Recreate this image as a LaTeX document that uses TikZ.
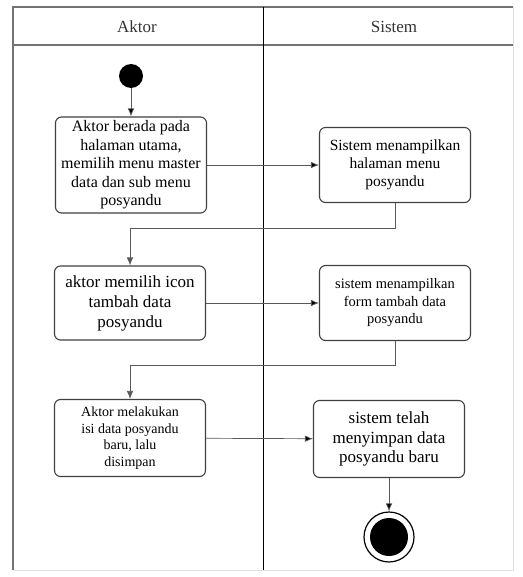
\documentclass[tikz,border=0pt]{standalone}
\usepackage{fontspec}
\setmainfont{Liberation Serif}
\usetikzlibrary{arrows.meta}

\begin{document}
\begin{tikzpicture}[->, >={Latex[length=8pt,width=6.5pt]}, x=1pt, y=-1pt, line width=0.8pt]
				\tikzstyle{activity}=[draw=black!75, rounded corners=6pt, line width=1.1pt, fill=white, text=black, align=center, inner sep=1pt, minimum width=151pt]
				\tikzstyle{flow}=[draw=black!65, line width=0.7pt]
				\useasboundingbox (0,0) rectangle (522,577);
				
				% swimlanes
				\draw[-, black!12, line width=1pt] (513,7) -- (513,570) -- (13,570);
				\draw[-, black!55, line width=1.5pt] (13,570) -- (13,7) -- (513,7);
				\draw[-, black!55, line width=1.2pt] (13,45) -- (513,45);
				\draw[-, black, line width=0.9pt] (263,7) -- (263,570);
				\node[font=\fontsize{17}{19}\selectfont, text=black!80] at (137,27) (hA) {Aktor};
				\node[font=\fontsize{17}{19}\selectfont, text=black!80] at (394,27) (hS) {Sistem};
				
				\node[circle, fill=black, inner sep=0pt, minimum size=24pt] at (131,76) (start) {};
				\node[activity, minimum height=96pt, font=\fontsize{16}{18.5}\selectfont] at (131,165) (a1) {Aktor berada pada\\halaman utama,\\memilih menu master\\data dan sub menu\\posyandu};
				\node[activity, minimum height=75pt, font=\fontsize{15.5}{18}\selectfont] at (395,165) (s1) {Sistem menampilkan\\halaman menu\\posyandu};
				\node[activity, minimum height=74pt, font=\fontsize{17}{20}\selectfont] at (130,303) (a2) {aktor memilih icon\\tambah data\\posyandu};
				\node[activity, minimum height=75pt, font=\fontsize{14.5}{17.5}\selectfont] at (395,303) (s2) {sistem menampilkan\\form tambah data\\posyandu};
				\node[activity, minimum height=77pt, font=\fontsize{14}{16.5}\selectfont] at (130,438) (a3) {Aktor melakukan\\isi data posyandu\\baru, lalu\\disimpan};
				\node[activity, minimum height=77pt, font=\fontsize{17}{19.5}\selectfont] at (389,439) (s3) {sistem telah\\menyimpan data\\posyandu baru};
				\node[circle, draw=black, line width=1.2pt, inner sep=0pt, minimum size=50pt] at (389,537) (stop) {};
				\node[circle, fill=black, inner sep=0pt, minimum size=38pt] at (stop) (stopdot) {};
				
				\path[flow]
				(start) edge (a1)
				(a1) edge (s1)
				(a2) edge (s2)
				(a3) edge (s3)
				(s3) edge (stop);
				\draw[flow] (s1.south) -- ++(0,25) -| (a2.north);
				\draw[flow] (s2.south) -- ++(0,24) -| (a3.north);
		  \end{tikzpicture}
\end{document}
